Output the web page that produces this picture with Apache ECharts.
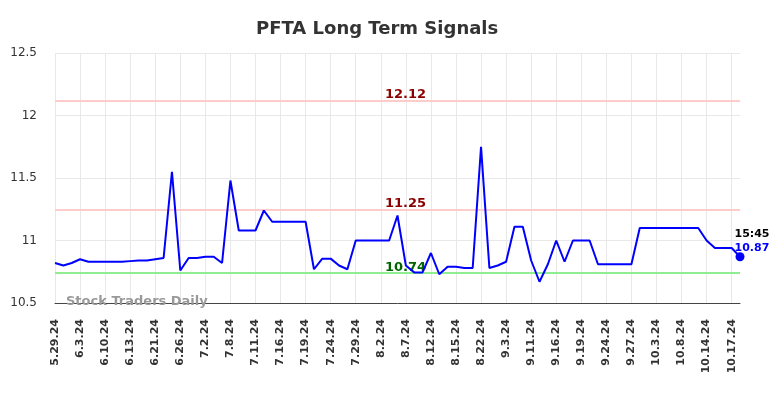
<!DOCTYPE html>
<head>
    <meta charset="utf-8">
    <title>PFTA Long Term Signals</title>
    <script src="https://cdn.jsdelivr.net/npm/echarts@6/dist/echarts.min.js"></script>
    <style>
        body { margin: 0; background: #fff; }
        #chart { width: 784px; height: 398px; }
    </style>
</head>
<body>
    <div id="chart"></div>

    <script type="text/javascript">

    // tick labels, one every 3rd point
    var tickLabels = ['5.29.24','6.3.24','6.10.24','6.13.24','6.21.24','6.26.24','7.2.24','7.8.24',
        '7.11.24','7.16.24','7.19.24','7.24.24','7.29.24','8.2.24','8.7.24','8.12.24','8.15.24',
        '8.22.24','9.3.24','9.11.24','9.16.24','9.19.24','9.24.24','9.27.24','10.3.24','10.8.24',
        '10.14.24','10.17.24'];

    var prices = [10.82,10.80,10.82,10.85,10.83,10.83,10.83,10.83,10.83,10.835,10.84,10.84,10.85,10.86,
        11.55,10.76,10.86,10.86,10.87,10.87,10.82,11.48,11.08,11.08,11.08,11.24,11.15,11.15,11.15,11.15,
        11.15,10.77,10.855,10.855,10.80,10.77,11.0,11.0,11.0,11.0,11.0,11.20,10.80,10.745,10.745,10.90,
        10.73,10.79,10.79,10.78,10.78,11.75,10.78,10.80,10.83,11.11,11.11,10.84,10.67,10.81,11.0,10.83,
        11.0,11.0,11.0,10.81,10.81,10.81,10.81,10.81,11.10,11.10,11.10,11.10,11.10,11.10,11.10,11.10,
        11.0,10.94,10.94,10.94,10.87];

    var upperSignal = 12.12;
    var midSignal = 11.25;
    var lowerSignal = 10.74;
    var lastTime = '15:45';

    // category labels: tick text every 3rd point
    var cats = prices.map(function (v, i) {
        return (i % 3 === 0 && tickLabels[i / 3]) ? tickLabels[i / 3] : '';
    });
    var lastIdx = prices.length - 1;
    var lastPrice = prices[lastIdx];

    var myChart = echarts.init(document.getElementById('chart'));

    var signalLabel = function (color, val) {
        return { color: color, formatter: val.toFixed(2) };
    };

    myChart.setOption({
        animation: false,
        title: {
            text: 'PFTA Long Term Signals',
            left: 251,
            top: 15,
            textStyle: {
                fontFamily: 'DejaVu Sans',
                fontSize: 18,
                fontWeight: 'bold',
                color: '#333'
            }
        },
        grid: {
            left: 55,
            right: 44,
            top: 53,
            bottom: 95
        },
        graphic: [{
            type: 'text',
            left: 66,
            top: 295,
            style: {
                text: 'Stock Traders Daily',
                fill: '#999',
                font: 'bold 13px "DejaVu Sans"'
            },
            z: 1
        }],
        xAxis: {
            type: 'category',
            boundaryGap: false,
            data: cats,
            axisLine: { lineStyle: { color: '#444', width: 1 } },
            axisTick: { show: false },
            axisLabel: {
                rotate: 90,
                interval: 2,
                color: '#333',
                fontFamily: 'DejaVu Sans',
                fontWeight: 'bold',
                fontSize: 11,
                margin: 16
            },
            splitLine: {
                show: true,
                interval: 2,
                lineStyle: { color: '#e8e8e8' }
            }
        },
        yAxis: {
            type: 'value',
            min: 10.5,
            max: 12.5,
            interval: 0.5,
            axisLine: { show: false },
            axisTick: { show: false },
            axisLabel: {
                color: '#333',
                fontFamily: 'DejaVu Sans',
                fontSize: 12,
                margin: 18
            },
            splitLine: { lineStyle: { color: '#e8e8e8' } }
        },
        series: [{
            type: 'line',
            data: prices,
            showSymbol: false,
            lineStyle: { color: '#0000ff', width: 2 },
            itemStyle: { color: '#0000ff' },
            z: 5,
            markPoint: {
                silent: true,
                animation: false,
                data: [{
                    coord: [lastIdx, lastPrice],
                    symbol: 'circle',
                    symbolSize: 9,
                    itemStyle: { color: '#0000ff' },
                    label: {
                        show: true,
                        position: [-1, -25],
                        align: 'left',
                        formatter: '{t|' + lastTime + '}\n{v|' + lastPrice.toFixed(2) + '}',
                        rich: {
                            t: { color: '#000', fontWeight: 'bold', fontSize: 11, fontFamily: 'DejaVu Sans', lineHeight: 14 },
                            v: { color: '#0000ff', fontWeight: 'bold', fontSize: 11, fontFamily: 'DejaVu Sans', lineHeight: 14 }
                        }
                    }
                }]
            },
            markLine: {
                silent: true,
                symbol: 'none',
                animation: false,
                label: {
                    position: 'insideMiddleTop',
                    distance: [0, -1],
                    padding: [0, 0, 0, 16],
                    fontFamily: 'DejaVu Sans',
                    fontWeight: 'bold',
                    fontSize: 13
                },
                data: [
                    { yAxis: upperSignal, lineStyle: { color: '#ffcccc', width: 2, type: 'solid' },
                      label: signalLabel('#8b0000', upperSignal) },
                    { yAxis: midSignal, lineStyle: { color: '#ffcccc', width: 2, type: 'solid' },
                      label: signalLabel('#8b0000', midSignal) },
                    { yAxis: lowerSignal, lineStyle: { color: '#90ee90', width: 2, type: 'solid' },
                      label: signalLabel('#006400', lowerSignal) }
                ]
            }
        }]
    });

    </script>
</body>
